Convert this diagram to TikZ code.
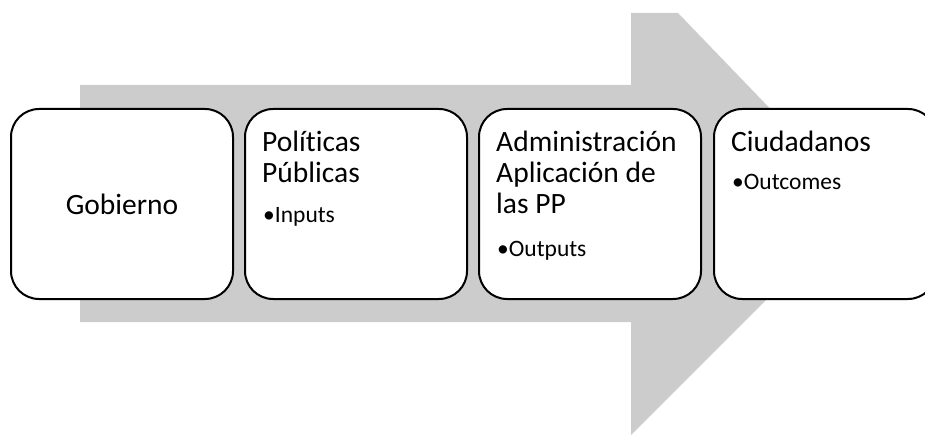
\documentclass[tikz,border=0pt]{standalone}
\usepackage{fontspec}
\setmainfont{Carlito}[Ligatures=NoCommon]
\usetikzlibrary{calc}
\definecolor{arrowgray}{RGB}{204,204,204}

\begin{document}
\begin{tikzpicture}[x=1pt,y=-1pt,
    stage/.style={draw=black,line width=2pt,fill=white,rounded corners=28pt,
        minimum width=222pt,minimum height=190pt,anchor=north west,
        inner sep=0pt,outer sep=0pt},
    title/.style={anchor=base west,inner sep=0pt,align=left,
        font=\fontsize{29.5}{31}\selectfont},
    item/.style={anchor=base west,inner sep=0pt,font=\fontsize{23.5}{26}\selectfont}]
    \useasboundingbox (0,0) rectangle (925,435);
    \clip (0,0) rectangle (925,435);

    \coordinate (tail top) at (80,85);
    \coordinate (tail bottom) at (80,322);
    \coordinate (tip) at (862,204);

    \fill[arrowgray] (tail top) -- (631,85) -- (631,13) -- (678,13) -- (tip)
        -- (631,435) -- (631,322) -- (tail bottom) -- cycle;

    \node (B1) [stage] at (11,109) {};
    \node (B2) [stage] at (245,109) {};
    \node (B3) [stage] at (479,109) {};
    \node (B4) [stage] at (714,109) {};

    \node (T1) [font=\fontsize{29.5}{31}\selectfont,inner sep=0pt] at (B1.center) {Gobierno};

    % base anchor sits on the last line
    \node (T2) [title] at ($(B2.north west)+(17,74)$) {Políticas\\Públicas};
    \node (I2) [item] at ($(B2.north west)+(18,114)$) {•Inputs};

    \node (T3) [title] at ($(B3.north west)+(17,105)$) {Administración\\Aplicación de\\las PP};
    \node (I3) [item] at ($(B3.north west)+(18,148)$) {•Outputs};

    \node (T4) [title] at ($(B4.north west)+(17,43)$) {Ciudadanos};
    \node (I4) [item] at ($(B4.north west)+(18,81)$) {•Outcomes};

\end{tikzpicture}
\end{document}
